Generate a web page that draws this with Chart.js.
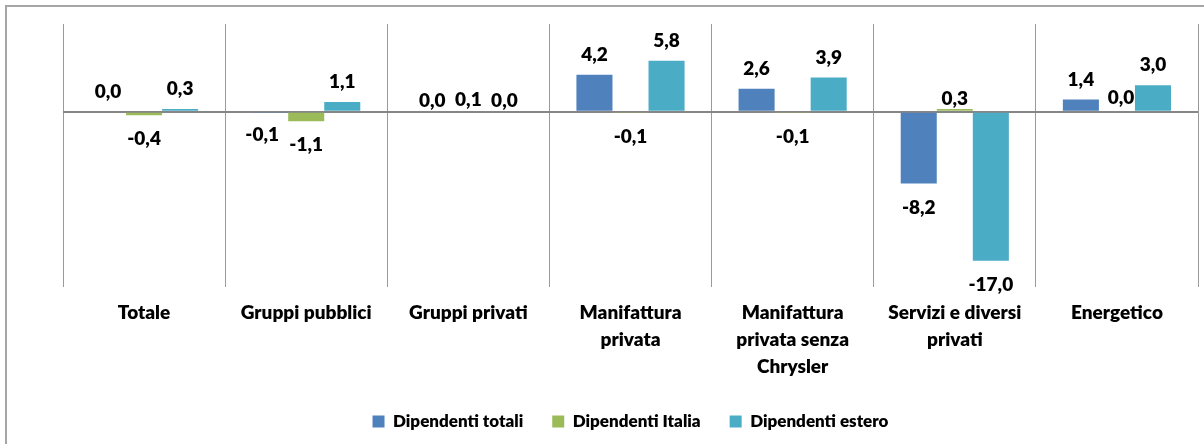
<!DOCTYPE html>
<html>
<head>
<meta charset="utf-8">
<script src="https://cdn.jsdelivr.net/npm/chart.js@4"></script>
<style>
  body { margin: 0; background: #fff; }
</style>
</head>
<body>
<canvas id="chart" width="1204" height="444"></canvas>
<script>
const categories = [
  'Totale',
  'Gruppi pubblici',
  'Gruppi privati',
  ['Manifattura', 'privata'],
  ['Manifattura', 'privata senza', 'Chrysler'],
  ['Servizi e diversi', 'privati'],
  'Energetico'
];
const dipTotali = [0.0, -0.1, 0.0, 4.2, 2.6, -8.2, 1.4];
const dipItalia = [-0.4, -1.1, 0.1, -0.1, -0.1, 0.3, 0.0];
const dipEstero = [0.3, 1.1, 0.0, 5.8, 3.9, -17.0, 3.0];

const FONT = 'Lato';
const WEIGHT = '800';

// little shifts Excel made to keep labels from colliding
const labelNudge = {
  '1-0': [-8, -2],
  '2-0': [0, 9], '2-1': [0, 9], '2-2': [0, 9],
  '5-1': [0, 10],
  '6-1': [4, 6]
};

const frame = {
  id: 'frame',
  beforeDraw(chart) {
    const {ctx} = chart;
    ctx.save();
    ctx.fillStyle = '#fff';
    ctx.fillRect(0, 0, chart.width, chart.height);
    ctx.strokeStyle = '#a6a6a6';
    ctx.lineWidth = 2;
    ctx.strokeRect(6, 6, chart.width + 20, chart.height + 20);
    ctx.restore();
  }
};

const valueLabels = {
  id: 'valueLabels',
  afterDatasetsDraw(chart) {
    const {ctx} = chart;
    ctx.save();
    ctx.font = WEIGHT + ' 19px ' + FONT;
    ctx.fillStyle = '#000';
    ctx.textAlign = 'center';
    ctx.textBaseline = 'middle';
    chart.data.datasets.forEach((ds, di) => {
      chart.getDatasetMeta(di).data.forEach((bar, i) => {
        const v = ds.data[i];
        const n = labelNudge[i + '-' + di] || [0, 0];
        const y = v < 0 ? bar.y + 24 : bar.y - 20;
        ctx.fillText(v.toFixed(1).replace('.', ','), bar.x + n[0], y + n[1]);
      });
    });
    ctx.restore();
  }
};

new Chart(document.getElementById('chart'), {
  type: 'bar',
  data: {
    labels: categories,
    datasets: [
      {label: 'Dipendenti totali', data: dipTotali, backgroundColor: '#4f81bd'},
      {label: 'Dipendenti Italia', data: dipItalia, backgroundColor: '#9bbb59'},
      {label: 'Dipendenti estero', data: dipEstero, backgroundColor: '#4bacc6'}
    ]
  },
  options: {
    responsive: false,
    animation: false,
    layout: {padding: {left: 63, right: 6, top: 24, bottom: 4}},
    datasets: {bar: {categoryPercentage: 0.667, barPercentage: 1}},
    scales: {
      x: {
        grid: {offset: true, color: '#9a9a9a', lineWidth: 1, drawTicks: false},
        border: {display: false},
        ticks: {
          color: '#000',
          font: {family: FONT, size: 19, weight: WEIGHT, lineHeight: 1.42},
          padding: 12,
          maxRotation: 0,
          autoSkip: false
        },
        afterFit: s => { s.height = 97; }
      },
      y: {
        min: -20,
        max: 10,
        ticks: {display: false, stepSize: 5},
        grid: {
          drawTicks: false,
          color: c => c.tick.value === 0 ? '#868686' : 'rgba(0,0,0,0)',
          lineWidth: c => c.tick.value === 0 ? 2 : 0
        },
        border: {display: false},
        afterFit: s => { s.width = 0; }
      }
    },
    plugins: {
      tooltip: {enabled: false},
      legend: {
        position: 'bottom',
        labels: {
          color: '#000',
          font: {family: FONT, size: 17, weight: WEIGHT},
          boxWidth: 12,
          boxHeight: 12,
          padding: 29
        }
      }
    }
  },
  plugins: [frame, valueLabels]
});
</script>
</body>
</html>
